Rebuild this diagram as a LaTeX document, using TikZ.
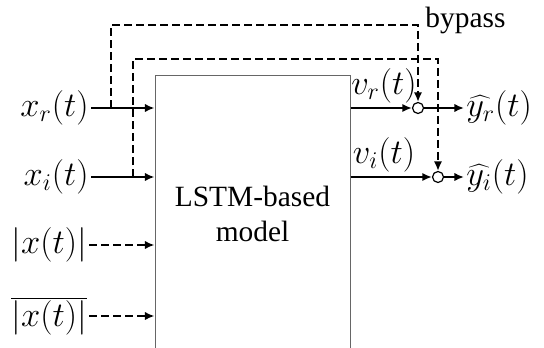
\documentclass[tikz,border=0pt]{standalone}
\usepackage{fontspec}
\setmainfont{Liberation Serif}
\usetikzlibrary{arrows.meta}
\begin{document}
\begin{tikzpicture}[x=0.5pt, y=-0.5pt,
        every node/.style={font=\fontsize{14.7}{17.5}\selectfont},
        model/.style={rectangle, draw=gray!80!black, line width=0.5pt,
          minimum width=97.5pt, minimum height=138pt,
          align=center, inner sep=0pt},
        lab/.style={inner sep=1pt, font=\fontsize{17.5}{20}\selectfont},
        junction/.style={circle, draw, line width=0.6pt, fill=white,
          minimum size=5.5pt, inner sep=0pt},
        arrow/.style={-{Latex[length=4.8pt,width=4.2pt]}, line width=1.4pt},
        bypass/.style={arrow, dash pattern=on 4pt off 2pt}
      ]
      \clip (0,0) rectangle (544,347);
      \node[model] (lstm) at (252.5,214) {LSTM-based\\model};
      \node[lab, anchor=east] (xr)  at (91,108) {$x_r(t)$};
      \node[lab, anchor=east] (xi)  at (91,177) {$x_i(t)$};
      \node[lab, anchor=east] (ax)  at (89,245) {$|x(t)|$};
      \node[lab, anchor=east] (axm) at (89,316) {$\overline{|x(t)|}$};
      \foreach \n in {xr,xi}
      {\draw[arrow] (\n) -- (\n -| lstm.west);}
      \foreach \n in {ax,axm}
      {\draw[bypass] (\n) -- (\n -| lstm.west);}
      \node[junction] (sr) at (418,108) {};
      \node[junction] (si) at (438,177) {};
      \node[lab, anchor=west] (yr) at (464,108) {$\widehat{y_r}(t)$};
      \node[lab, anchor=west] (yi) at (464,177) {$\widehat{y_i}(t)$};
      \node[lab] (vr) at (384,86)  {$v_r(t)$};
      \node[lab] (vi) at (384,155) {$v_i(t)$};
      \foreach \j/\y in {sr/yr,si/yi}
      {\draw[arrow] (\j -| lstm.east) -- (\j);
       \draw[arrow] (\j) -- (\y);}
      \coordinate (tapr)  at (111,108);
      \coordinate (tapi)  at (133,177);
      \coordinate (bendr) at (418,25);
      \coordinate (bendi) at (438,59);
      \draw[bypass] (tapr) |- (bendr) -- (sr);
      \draw[bypass] (tapi) |- (bendi) -- (si);
      \node[anchor=west, inner sep=1pt] (bp) at (423,20) {bypass};
    \end{tikzpicture}
\end{document}
